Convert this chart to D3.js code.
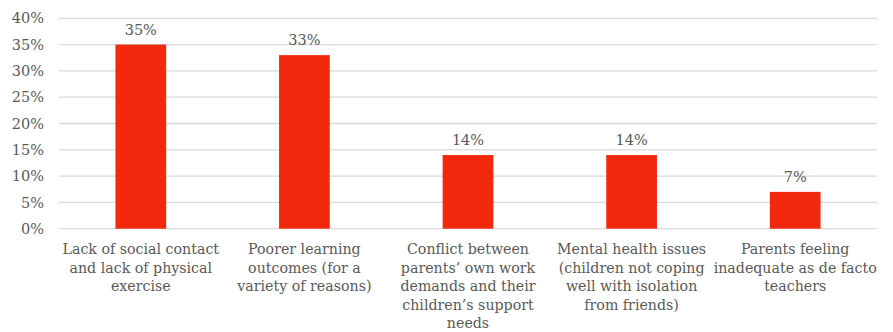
<!DOCTYPE html>
<html>
<head>
<meta charset="utf-8">
<script src="https://cdn.jsdelivr.net/npm/d3@7"></script>
<style>
  html, body { margin: 0; padding: 0; background: #fff; }
  svg text { font-family: "DejaVu Serif", serif; fill: #595959; }
</style>
</head>
<body>
<svg id="chart" width="893" height="332"></svg>
<script>
// Concerns reported about children's home schooling
const categories = [
  "Lack of social contact and lack of physical exercise",
  "Poorer learning outcomes (for a variety of reasons)",
  "Conflict between parents’ own work demands and their children’s support needs",
  "Mental health issues (children not coping well with isolation from friends)",
  "Parents feeling inadequate as de facto teachers"
];
const categoryLines = [
  ["Lack of social contact", "and lack of physical", "exercise"],
  ["Poorer learning", "outcomes (for a", "variety of reasons)"],
  ["Conflict between", "parents’ own work", "demands and their", "children’s support", "needs"],
  ["Mental health issues", "(children not coping", "well with isolation", "from friends)"],
  ["Parents feeling", "inadequate as de facto", "teachers"]
];
const values = [0.35, 0.33, 0.14, 0.14, 0.07];
const yTicks = [0, 0.05, 0.10, 0.15, 0.20, 0.25, 0.30, 0.35, 0.40];

const svg = d3.select("#chart");
const margin = { top: 18.3, left: 59, right: 16, bottom: 103.3 };
const W = 893, H = 332;

const x = d3.scaleBand()
  .domain(categories)
  .range([margin.left, W - margin.right])
  .paddingInner(0.69)
  .paddingOuter(0.345);

const y = d3.scaleLinear()
  .domain([0, 0.40])
  .range([H - margin.bottom, margin.top]);

const fmt = d3.format(".0%");

// Horizontal gridlines
svg.append("g")
  .selectAll("line")
  .data(yTicks)
  .join("line")
  .attr("x1", margin.left)
  .attr("x2", W - margin.right)
  .attr("y1", d => y(d))
  .attr("y2", d => y(d))
  .attr("stroke", "#d9d9d9")
  .attr("stroke-width", 1.3);

// Y axis labels
const yAxis = d3.axisLeft(y).tickValues(yTicks).tickFormat(fmt).tickSize(0).tickPadding(15);
const gy = svg.append("g")
  .attr("transform", `translate(${margin.left},0)`)
  .call(yAxis);
gy.attr("font-family", null);
gy.select(".domain").remove();
gy.selectAll("text")
  .attr("font-size", 14.5)
  .attr("fill", "#595959");

// Bars
svg.append("g")
  .selectAll("rect")
  .data(values)
  .join("rect")
  .attr("x", (d, i) => x(categories[i]))
  .attr("width", x.bandwidth())
  .attr("y", d => y(d))
  .attr("height", d => y(0) - y(d))
  .attr("fill", "#f2290d");

// Value labels
svg.append("g")
  .selectAll("text")
  .data(values)
  .join("text")
  .attr("x", (d, i) => x(categories[i]) + x.bandwidth() / 2)
  .attr("y", d => y(d) - 10)
  .attr("text-anchor", "middle")
  .attr("font-size", 14.5)
  .text(d => fmt(d));

// Category labels
const lab = svg.append("g")
  .selectAll("text")
  .data(categoryLines)
  .join("text")
  .attr("text-anchor", "middle")
  .attr("font-size", 14.2)
  .attr("x", (d, i) => x(categories[i]) + x.bandwidth() / 2)
  .attr("y", 254);
lab.selectAll("tspan")
  .data(d => d)
  .join("tspan")
  .attr("x", function () { return d3.select(this.parentNode).attr("x"); })
  .attr("dy", (d, i) => i === 0 ? 0 : 18.6)
  .text(d => d);
</script>
</body>
</html>
